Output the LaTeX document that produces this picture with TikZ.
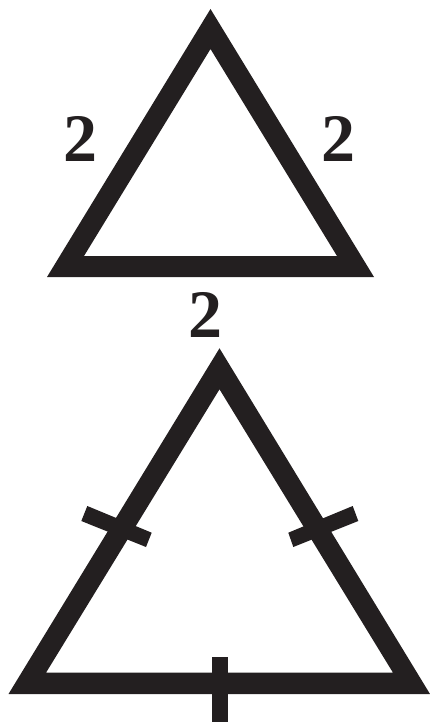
\documentclass[tikz,border=0pt]{standalone}
\usepackage{fontspec}
\setmainfont{Liberation Serif}
\definecolor{ink}{HTML}{231F20}
\begin{document}
\begin{tikzpicture}[x=1pt,y=-1pt,
  ringshape/.style={fill=ink,even odd rule},
  tickmark/.style={fill=ink},
  lbl/.style={inner sep=0pt,text=ink,font=\fontsize{68}{68}\selectfont\bfseries}]
\useasboundingbox (0,0) rectangle (430,725);
% top triangle
\fill[ringshape] (210.5,9) -- (374,277) -- (47,277) -- cycle
             (210.5,49) -- (337,256) -- (84,256) -- cycle;
\node[lbl] (l1) at (80,139) {2};
\node[lbl] (l2) at (338,139) {2};
\node[lbl] (l3) at (205,315) {2};
% bottom triangle
\fill[ringshape] (219.5,348.3) -- (430,694) -- (8.5,694) -- cycle
             (219.5,389.3) -- (393,672.7) -- (46,672.7) -- cycle;
% ticks
\fill[tickmark] (212.2,657.3) rectangle (228,721.7);
\fill[tickmark] (87.3,506) -- (151.7,532.7) -- (146,547) -- (81.3,521) -- cycle;
\fill[tickmark] (352.7,506) -- (288.3,532.7) -- (293.3,547) -- (358.3,521) -- cycle;
\end{tikzpicture}
\end{document}
